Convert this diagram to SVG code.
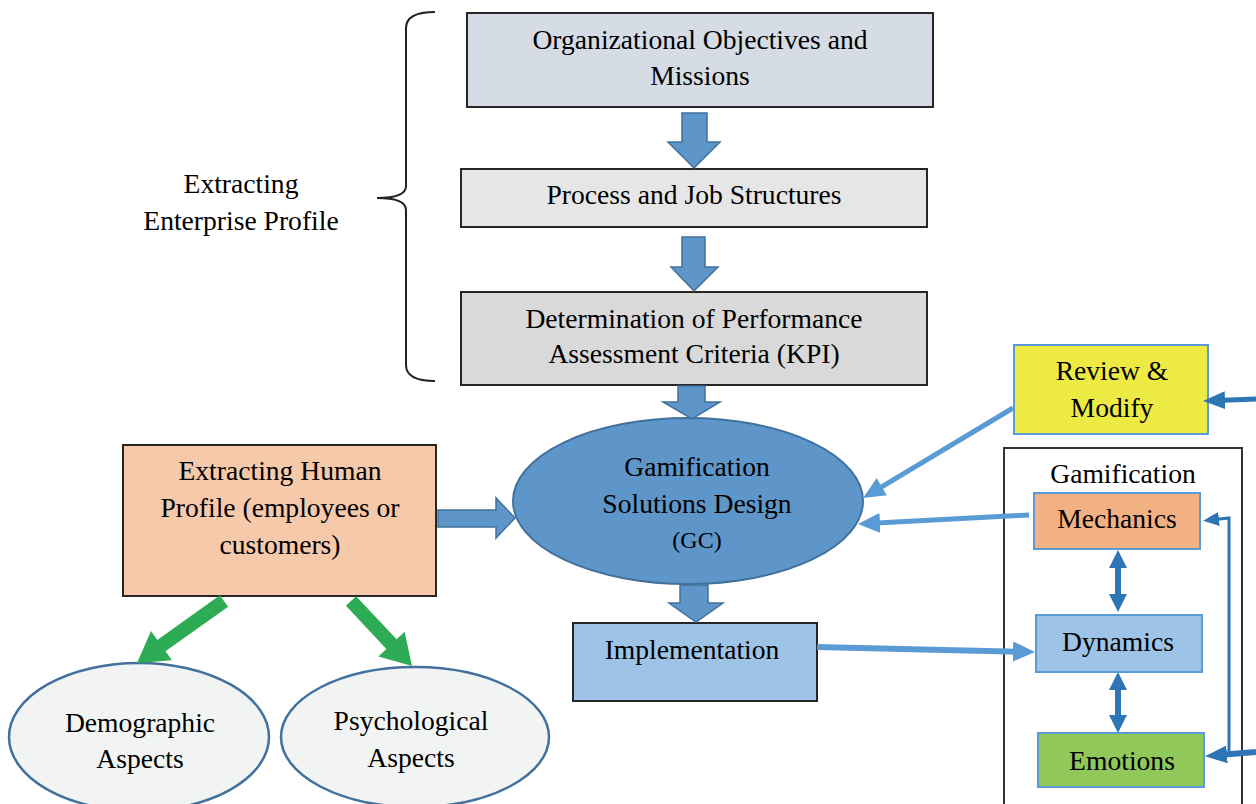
<svg xmlns="http://www.w3.org/2000/svg" width="1256" height="804" viewBox="0 0 1256 804">
<style>
text{font-family:"Liberation Serif","Times New Roman",serif;font-size:27.6px;fill:#000;text-anchor:middle}
.box{stroke:#262626;stroke-width:2}
.blk{fill:#5e96ca;stroke:#41719c;stroke-width:1.5}
.gbox{stroke:#5b9bd5;stroke-width:2}
.lc{fill:none;stroke:#5b9bd5;stroke-linecap:butt}
.dc{fill:none;stroke:#2e75b6}
.green{fill:#2eab55}
.asp{fill:#f2f4f4;stroke:#41719c;stroke-width:2.5}
</style>
<defs>
<marker id="mLight" markerUnits="userSpaceOnUse" viewBox="0 0 22 20" refX="8" refY="10" markerWidth="22" markerHeight="20" orient="auto"><path d="M0,0 L22,10 L0,20 z" fill="#5b9bd5"/></marker>
<marker id="mDark" markerUnits="userSpaceOnUse" viewBox="0 0 22 18" refX="8" refY="9" markerWidth="22" markerHeight="18" orient="auto"><path d="M0,0 L22,9 L0,18 z" fill="#2e75b6"/></marker>
<marker id="mSmall" markerUnits="userSpaceOnUse" viewBox="0 0 16 14" refX="4" refY="7" markerWidth="16" markerHeight="14" orient="auto"><path d="M0,0 L16,7 L0,14 z" fill="#2e75b6"/></marker>
<marker id="mDbl" markerUnits="userSpaceOnUse" viewBox="0 0 18 18" refX="6" refY="9" markerWidth="18" markerHeight="18" orient="auto-start-reverse"><path d="M0,0 L18,9 L0,18 z" fill="#2e75b6"/></marker>
</defs>

<g id="enterprise-label">
<path d="M435,12 Q406,12 406,28 L406,186 Q406,198 377,198 Q406,198 406,210 L406,365 Q406,381 435,381" fill="none" stroke="#222" stroke-width="2"/>
<text x="241" y="193">Extracting</text>
<text x="241" y="230">Enterprise Profile</text>
</g>

<g id="objectives">
<rect class="box" x="467" y="13" width="466" height="94" fill="#d6dce5"/>
<text x="700" y="49">Organizational Objectives and</text>
<text x="700" y="85">Missions</text>
</g>

<g id="process">
<rect class="box" x="461" y="169" width="466" height="58" fill="#e7e6e6"/>
<text x="694" y="204">Process and Job Structures</text>
</g>

<g id="kpi">
<rect class="box" x="461" y="292" width="466" height="93" fill="#d9d9d9"/>
<text x="694" y="328">Determination of Performance</text>
<text x="694" y="363">Assessment Criteria (KPI)</text>
</g>

<g id="gc">
<ellipse cx="688" cy="501" rx="175" ry="83" fill="#5e96ca" stroke="#41719c" stroke-width="2"/>
<text x="697" y="476">Gamification</text>
<text x="697" y="513">Solutions Design</text>
<text x="697" y="548" style="font-size:24px">(GC)</text>
</g>

<g id="implementation">
<rect class="box" x="573" y="623" width="244" height="78" fill="#9dc3e6"/>
<text x="692" y="659">Implementation</text>
</g>

<g id="human">
<rect class="box" x="123" y="445" width="313" height="151" fill="#f6c9ab"/>
<text x="280" y="480">Extracting Human</text>
<text x="280" y="517">Profile (employees or</text>
<text x="280" y="554">customers)</text>
</g>

<g id="demographic">
<ellipse class="asp" cx="139" cy="737" rx="130" ry="74"/>
<text x="140" y="732">Demographic</text>
<text x="140" y="768">Aspects</text>
</g>

<g id="psychological">
<ellipse class="asp" cx="415" cy="737" rx="134" ry="70"/>
<text x="411" y="730">Psychological</text>
<text x="411" y="767">Aspects</text>
</g>

<g id="review">
<rect class="gbox" x="1014" y="345" width="194" height="89" fill="#eeea44"/>
<text x="1112" y="380">Review &amp;</text>
<text x="1112" y="417">Modify</text>
</g>

<g id="gamification">
<rect x="1004" y="448" width="238" height="360" fill="none" stroke="#333" stroke-width="2"/>
<text x="1123" y="483">Gamification</text>
</g>

<g id="mechanics">
<rect class="gbox" x="1034" y="493" width="166" height="56" fill="#f2b183"/>
<text x="1117" y="528">Mechanics</text>
</g>

<g id="dynamics">
<rect class="gbox" x="1036" y="615" width="166" height="57" fill="#9dc3e6"/>
<text x="1118" y="651">Dynamics</text>
</g>

<g id="emotions">
<rect class="gbox" x="1038" y="733" width="166" height="54" fill="#90c85a"/>
<text x="1122" y="770">Emotions</text>
</g>

<g id="connectors">
<polygon class="blk" points="682,113 707,113 707,142 720,142 694,168 668,142 682,142"/>
<polygon class="blk" points="682,237 705,237 705,267 718,267 694,291 671,267 682,267"/>
<polygon class="blk" points="678,386 705,386 705,402 720,402 692,419 663,402 678,402"/>
<polygon class="blk" points="680,585 708,585 708,603 723,603 696,622 669,603 680,603"/>
<polygon class="blk" points="438,510 496,510 496,498 515,518 496,538 496,527 438,527"/>
<polygon class="green" points="228.1,606.7 219.9,595.3 157.3,639.9 151,630.9 137,663 171.9,660.3 165.5,651.3"/>
<polygon class="green" points="345.9,605.8 356.1,596.2 396.6,639.3 404.6,631.8 412,666 378.4,656.4 386.4,648.9"/>
<line class="lc" x1="1013" y1="408" x2="875" y2="490.8" stroke-width="5" marker-end="url(#mLight)"/>
<line class="lc" x1="1029" y1="515" x2="872" y2="523.3" stroke-width="5" marker-end="url(#mLight)"/>
<line class="lc" x1="817" y1="647" x2="1021" y2="651.7" stroke-width="6" marker-end="url(#mLight)"/>
<line class="dc" x1="1256" y1="399" x2="1217" y2="400.5" stroke-width="5" marker-end="url(#mDark)"/>
<line class="dc" x1="1256" y1="752" x2="1219" y2="755" stroke-width="6" marker-end="url(#mDark)"/>
<polyline class="dc" points="1229,753 1229,518 1215,519.5" stroke-width="3" marker-end="url(#mSmall)"/>
<line class="dc" x1="1118" y1="562" x2="1118" y2="600" stroke-width="6" marker-start="url(#mDbl)" marker-end="url(#mDbl)"/>
<line class="dc" x1="1118" y1="684" x2="1118" y2="721" stroke-width="6" marker-start="url(#mDbl)" marker-end="url(#mDbl)"/>
</g>
</svg>
